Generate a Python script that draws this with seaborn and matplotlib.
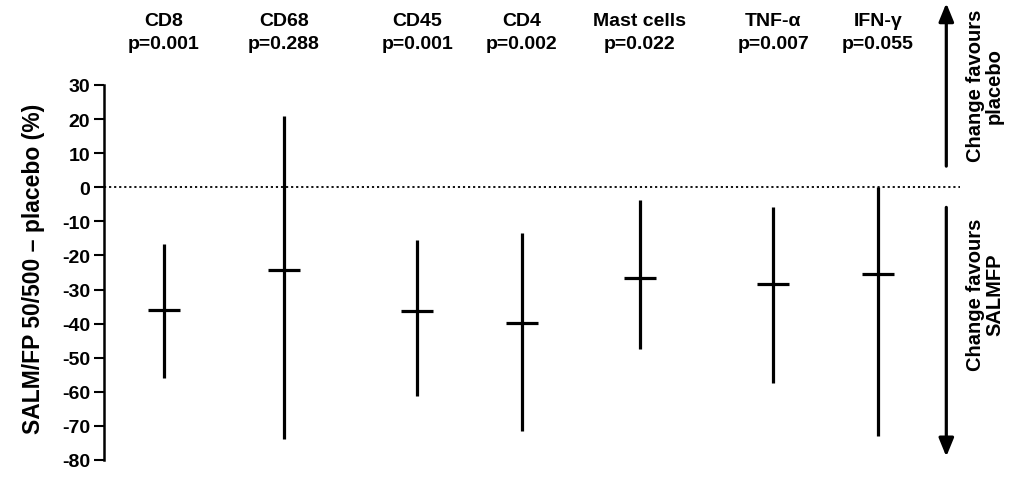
import matplotlib
matplotlib.use("Agg")
import matplotlib.pyplot as plt
import numpy as np
import pandas as pd
import seaborn as sns

# values
markers = ['CD8', 'CD68', 'CD45', 'CD4', 'Mast cells', 'TNF-\u03b1', 'IFN-\u03b3']
p_values = ['p=0.001', 'p=0.288', 'p=0.001', 'p=0.002', 'p=0.022', 'p=0.007', 'p=0.055']
centre = [-35.9, -24.2, -36.3, -39.8, -26.5, -28.3, -25.4]
lower = [-55.8, -73.9, -61.2, -71.5, -47.5, -57.5, -73.1]
upper = [-16.7, 20.9, -15.5, -13.3, -3.7, -5.7, 0.0]
# horizontal position of each marker on the (unlabelled) x axis
xpos = [0.70, 2.10, 3.66, 4.88, 6.26, 7.82, 9.04]

df = pd.DataFrame({'marker': markers, 'x': xpos, 'centre': centre,
                   'lower': lower, 'upper': upper})

sns.set_style('white')
plt.rcParams['font.family'] = ['Liberation Sans', 'DejaVu Sans']
plt.rcParams['font.weight'] = 'bold'
plt.rcParams['axes.unicode_minus'] = False
plt.rcParams['text.color'] = 'black'
plt.rcParams['axes.labelcolor'] = 'black'

W, H = 1014, 481
fig = plt.figure(figsize=(W / 100, H / 100), dpi=100)
ax = fig.add_axes([104 / W, 20 / H, 856 / W, 375 / H])

# confidence intervals
ax.vlines(df['x'], df['lower'], df['upper'], color='black', linewidth=2.3)
# point estimates as short horizontal bars
sns.scatterplot(data=df, x='x', y='centre', marker='_', s=560, color='black',
                linewidth=2.3, ax=ax, legend=False, zorder=3)

ax.axhline(0, color='black', linestyle=(0, (1.2, 1.6)), linewidth=1.3)

ax.set_xlim(0, 10)
ax.set_ylim(-80, 30)
ax.set_yticks(np.arange(-80, 31, 10))
ax.set_xticks([])
ax.set_xlabel('')
for s in ['top', 'right', 'bottom']:
    ax.spines[s].set_visible(False)
ax.spines['left'].set_linewidth(1.8)
ax.spines['left'].set_color('black')
ax.tick_params(axis='y', direction='out', length=7, width=1.5, left=True,
               labelsize=14, pad=3, colors='black')
for lab in ax.get_yticklabels():
    lab.set_fontweight('bold')

ax.set_ylabel('SALM/FP 50/500 \u2013 placebo (%)', fontsize=16.5, fontweight='bold')
ax.yaxis.set_label_coords(-0.069, 0.513)

# column headings above the plot
trans = matplotlib.transforms.blended_transform_factory(ax.transData, fig.transFigure)
for x, m, p in zip(xpos, markers, p_values):
    ax.text(x, 1 - 22 / H, m, transform=trans, ha='center', va='center',
            fontsize=14, fontweight='bold')
    ax.text(x, 1 - 45 / H, p, transform=trans, ha='center', va='center',
            fontsize=14, fontweight='bold')

# direction arrows on the right
arrow_x = 9.84
ax.annotate('', xy=(arrow_x, 54), xytext=(arrow_x, 6.2), annotation_clip=False,
            arrowprops=dict(arrowstyle='-|>,head_length=1.1,head_width=0.45',
                            color='black', lw=2.3, shrinkA=0, shrinkB=0))
ax.annotate('', xy=(arrow_x, -79), xytext=(arrow_x, -5.9), annotation_clip=False,
            arrowprops=dict(arrowstyle='-|>,head_length=1.1,head_width=0.45',
                            color='black', lw=2.3, shrinkA=0, shrinkB=0))
fig.text(985 / W, 1 - 86 / H, 'Change favours\nplacebo', rotation=90,
         ha='center', va='center', fontsize=14.5, fontweight='bold',
         multialignment='center', linespacing=1.0)
fig.text(985 / W, 1 - 295 / H, 'Change favours\nSALMFP', rotation=90,
         ha='center', va='center', fontsize=14.5, fontweight='bold',
         multialignment='center', linespacing=1.0)

fig.savefig('out.png', dpi=100)
